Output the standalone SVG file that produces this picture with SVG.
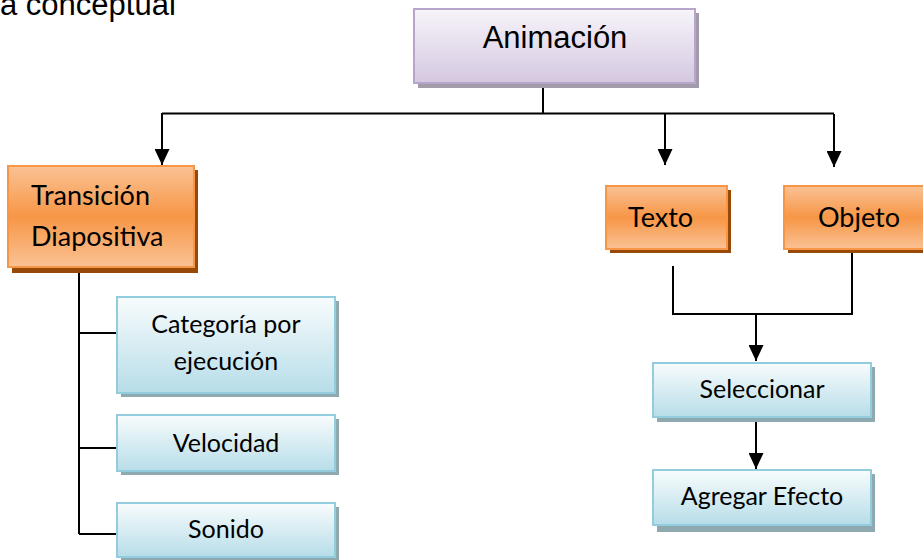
<svg xmlns="http://www.w3.org/2000/svg" width="923" height="560" viewBox="0 0 923 560">
<defs>
<linearGradient id="gPurple" x1="0" y1="0" x2="0" y2="1">
<stop offset="0" stop-color="#f7f4fa"/>
<stop offset="1" stop-color="#d4c8e0"/>
</linearGradient>
<linearGradient id="gOrange" x1="0" y1="0" x2="0" y2="1">
<stop offset="0" stop-color="#fac294"/>
<stop offset="0.5" stop-color="#f79646"/>
<stop offset="1" stop-color="#fac294"/>
</linearGradient>
<linearGradient id="gBlue" x1="0" y1="0" x2="0" y2="1">
<stop offset="0" stop-color="#f8fcfd"/>
<stop offset="1" stop-color="#b7dde8"/>
</linearGradient>
<marker id="arr" markerWidth="16" markerHeight="15" refX="16" refY="7.5" orient="auto" markerUnits="userSpaceOnUse">
<path d="M0,0 L16,7.5 L0,15 Z" fill="#000"/>
</marker>
</defs>
<style>
.conn{fill:none;stroke:#000;stroke-width:2}
.purple{fill:url(#gPurple);stroke:#b7a5cb;stroke-width:2}
.pshadow{fill:#a29caa}
.orange{fill:url(#gOrange);stroke:#f79646;stroke-width:2}
.oshadow{fill:#984807}
.blue{fill:url(#gBlue);stroke:#93cddd;stroke-width:2}
.bshadow{fill:#8ea9b0}
.big{font-family:"Liberation Sans",Arial,sans-serif;font-size:31px;fill:#000}
.ot{font-family:Lato,"Open Sans",sans-serif;font-size:27px;fill:#000}
.bt{font-family:Lato,"Open Sans",sans-serif;font-size:25px;fill:#000;text-anchor:middle}
</style>

<text class="big" x="0" y="15" font-size="32">a conceptual</text>

<g id="connectors">
<path class="conn" d="M543,83 V113.5"/>
<path class="conn" d="M162,113.5 H834"/>
<path class="conn" d="M162,113 V165" marker-end="url(#arr)"/>
<path class="conn" d="M665,114 V165" marker-end="url(#arr)"/>
<path class="conn" d="M834,114 V167" marker-end="url(#arr)"/>
<path class="conn" d="M673,266 V314 H852 V249"/>
<path class="conn" d="M756,314 V361" marker-end="url(#arr)"/>
<path class="conn" d="M756,418 V469" marker-end="url(#arr)"/>
<path class="conn" d="M79,268 V534"/>
<path class="conn" d="M79,333 H117"/>
<path class="conn" d="M79,448 H117"/>
<path class="conn" d="M79,534 H117"/>
</g>

<g id="animacion">
<rect class="pshadow" x="418" y="13" width="281" height="75"/>
<rect class="purple" x="414" y="9" width="281" height="74"/>
<text class="big" x="555" y="48" text-anchor="middle" font-size="32">Animación</text>
</g>

<g id="transicion">
<rect class="oshadow" x="12" y="170" width="186" height="103"/>
<rect class="orange" x="8" y="166" width="186" height="101"/>
<text class="ot" x="31" y="205">Transición</text>
<text class="ot" x="31" y="246">Diapositiva</text>
</g>

<g id="texto">
<rect class="oshadow" x="610" y="190" width="121" height="63"/>
<rect class="orange" x="606" y="186" width="121" height="63"/>
<text class="ot" x="628" y="227">Texto</text>
</g>

<g id="objeto">
<rect class="oshadow" x="788" y="190" width="140" height="63"/>
<rect class="orange" x="784" y="186" width="142" height="63"/>
<text class="ot" x="818" y="227">Objeto</text>
</g>

<g id="categoria">
<rect class="bshadow" x="121" y="301" width="218" height="96"/>
<rect class="blue" x="117" y="297" width="218" height="96"/>
<text class="bt" x="226" y="333">Categoría por</text>
<text class="bt" x="226" y="370">ejecución</text>
</g>

<g id="velocidad">
<rect class="bshadow" x="121" y="419" width="218" height="56"/>
<rect class="blue" x="117" y="415" width="218" height="56"/>
<text class="bt" x="226" y="452">Velocidad</text>
</g>

<g id="sonido">
<rect class="bshadow" x="121" y="507" width="218" height="56"/>
<rect class="blue" x="117" y="503" width="218" height="54"/>
<text class="bt" x="226" y="538">Sonido</text>
</g>

<g id="seleccionar">
<rect class="bshadow" x="657" y="367" width="218" height="55"/>
<rect class="blue" x="653" y="363" width="218" height="54"/>
<text class="bt" x="762" y="398">Seleccionar</text>
</g>

<g id="agregar">
<rect class="bshadow" x="657" y="474" width="218" height="58"/>
<rect class="blue" x="653" y="470" width="218" height="55"/>
<text class="bt" x="762" y="505">Agregar Efecto</text>
</g>
</svg>
